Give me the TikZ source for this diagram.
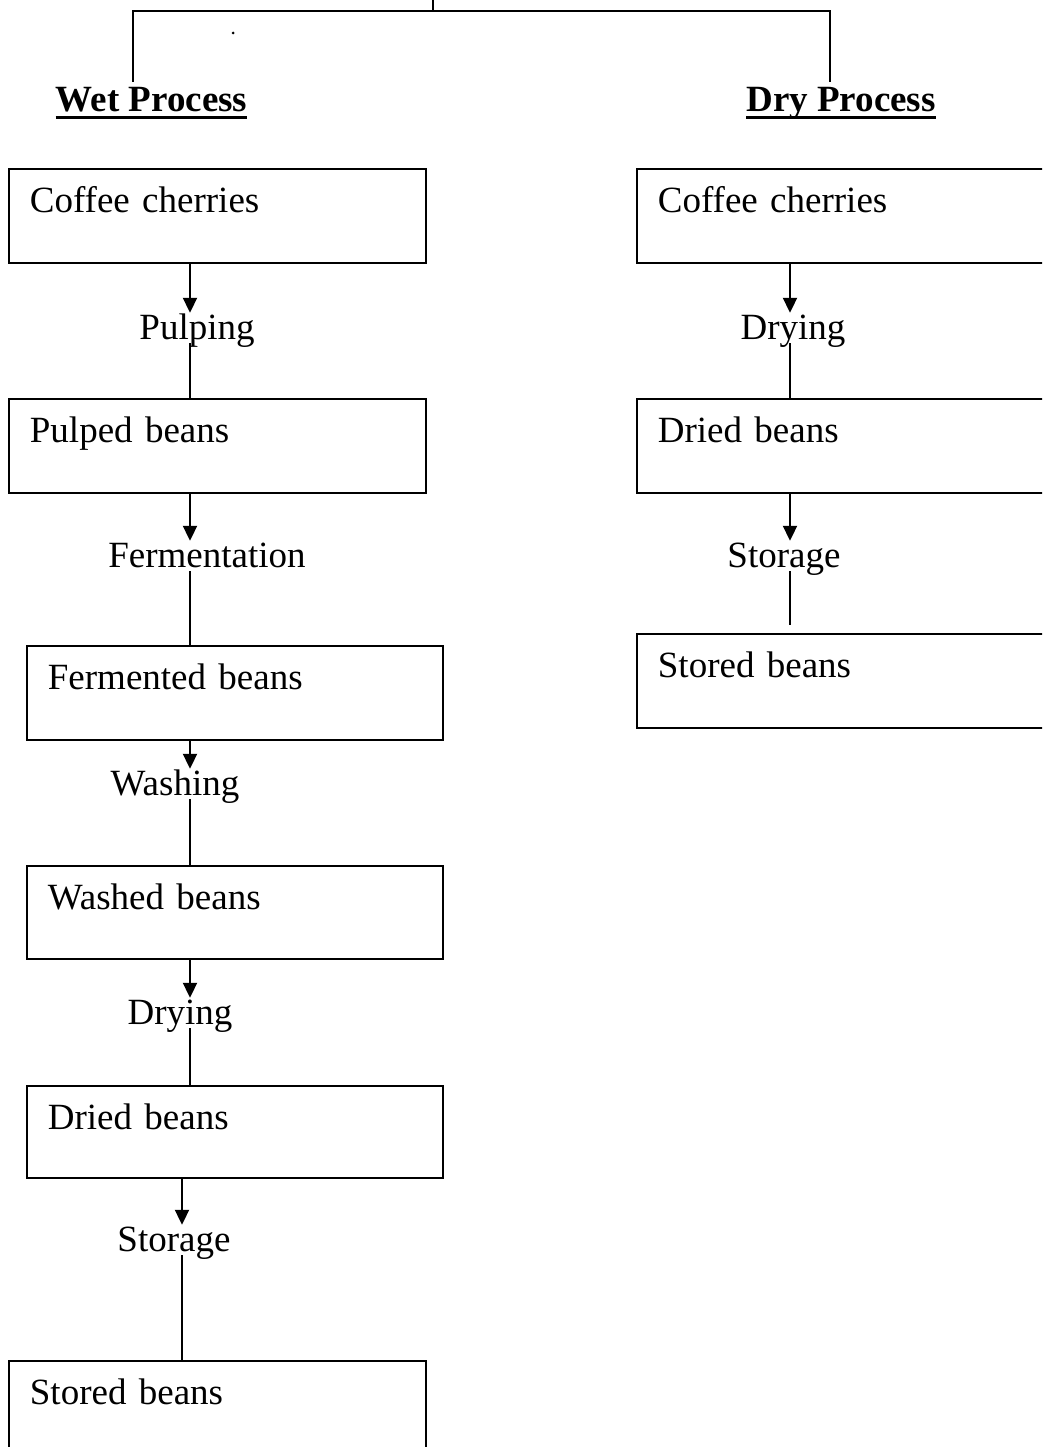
\documentclass[tikz,border=0pt]{standalone}
\usepackage{fontspec}
\setmainfont{Liberation Serif}
\usetikzlibrary{arrows.meta}
\begin{document}
\begin{tikzpicture}[x=1pt,y=-1pt,
  every node/.style={font=\fontsize{37}{44}\selectfont},
  box/.style={draw, line width=1.8pt, anchor=north west, inner xsep=21pt, inner ysep=0pt, text height=44pt, align=left},
  lab/.style={inner sep=0pt, text height=26pt, text depth=4pt, anchor=base},
  head/.style={inner sep=0pt, text height=30pt, text depth=5pt, anchor=base, font=\fontsize{37}{44}\selectfont\bfseries},
  ln/.style={line width=1.9pt},
  arr/.style={line width=2pt, -{Triangle[length=15pt,width=14pt]}},
  ul/.style={line width=3.2pt}]
\clip (0,0) rectangle (1042,1447);
\fill[white] (0,0) rectangle (1042,1447);

% headings
\node[head] (wet) at (151.5,112) {Wet Process};
\node[head] (dry) at (841,112) {Dry Process};
\draw[ul] (wet.south west) -- (wet.south east);
\draw[ul] (dry.south west) -- (dry.south east);

\coordinate (top) at (433,0);
\coordinate (hub) at (433,11);
\coordinate (L) at (133,0);
\coordinate (R) at (830,0);
\draw[ln] (top) -- (hub);
\draw[ln] (wet.north -| L) |- (hub) -| (dry.north -| R);
\fill (233,33) circle (1.5pt);

% wet process boxes
\node[box, text width=375pt, text depth=50pt] (b1) at (8,168) {Coffee cherries};
\node[box, text width=375pt, text depth=50pt] (b2) at (8,398) {Pulped beans};
\node[box, text width=374pt, text depth=50pt] (b3) at (26,645) {Fermented beans};
\node[box, text width=374pt, text depth=49pt] (b4) at (26,865) {Washed beans};
\node[box, text width=374pt, text depth=48pt] (b5) at (26,1085) {Dried beans};
\node[box, text width=375pt, text depth=50pt] (b6) at (8,1360) {Stored beans};

% dry process boxes
\node[box, text width=422pt, text depth=50pt] (d1) at (636,168) {Coffee cherries};
\node[box, text width=422pt, text depth=50pt] (d2) at (636,398) {Dried beans};
\node[box, text width=422pt, text depth=50pt] (d3) at (636,633) {Stored beans};

% step labels
\node[lab] (l1) at (197,339) {Pulping};
\node[lab] (l2) at (207,567) {Fermentation};
\node[lab] (l3) at (175,795) {Washing};
\node[lab] (l4) at (180,1024) {Drying};
\node[lab] (l5) at (174,1251) {Storage};
\node[lab] (m1) at (793,339) {Drying};
\node[lab] (m2) at (784,567) {Storage};

\coordinate (xa) at (190,0);
\coordinate (xb) at (182,0);
\coordinate (xc) at (790,0);

% wet connectors
\draw[arr] (b1.south -| xa) -- (l1.north -| xa);
\draw[ln] (l1.south -| xa) -- (b2.north -| xa);
\draw[arr] (b2.south -| xa) -- (l2.north -| xa);
\draw[ln] (l2.south -| xa) -- (b3.north -| xa);
\draw[arr] (b3.south -| xa) -- (l3.north -| xa);
\draw[ln] (l3.south -| xa) -- (b4.north -| xa);
\draw[arr] (b4.south -| xa) -- (l4.north -| xa);
\draw[ln] (l4.south -| xa) -- (b5.north -| xa);
\draw[arr] (b5.south -| xb) -- (l5.north -| xb);
\draw[ln] (l5.south -| xb) -- (b6.north -| xb);

% dry connectors
\draw[arr] (d1.south -| xc) -- (m1.north -| xc);
\draw[ln] (m1.south -| xc) -- (d2.north -| xc);
\draw[arr] (d2.south -| xc) -- (m2.north -| xc);
\draw[ln] (m2.south -| xc) -- ([yshift=8pt]d3.north -| xc);
\end{tikzpicture}
\end{document}
